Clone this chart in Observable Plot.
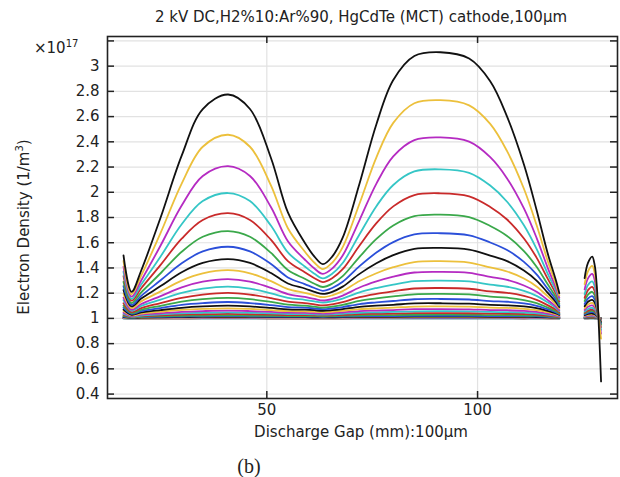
<!DOCTYPE html>
<html><head><meta charset="utf-8">
<script src="https://cdn.jsdelivr.net/npm/d3@7"></script>
<script src="https://cdn.jsdelivr.net/npm/@observablehq/plot@0.6"></script>
<style>
body{margin:0;background:#fff;}
#wrap{position:relative;width:620px;height:477px;font-family:"DejaVu Sans",sans-serif;color:#222;overflow:hidden;}
.t{position:absolute;white-space:nowrap;font-size:15px;line-height:18px;}
</style></head><body><div id="wrap"></div>
<script>
// Discharge gap positions (mm) sampled along the two curve segments
const xGap1 = [16.0, 17.9, 20.2, 24.8, 29.8, 34.8, 40.8, 46, 51, 55, 59, 61.3, 63.3, 65.5, 68, 72, 76, 80, 85, 91.2, 98, 103, 107, 111, 114, 116.6, 118.6, 119.4];
const xGap2 = [125.4, 126.2, 127.2, 127.8, 128.3, 128.8, 129.3];

// COMSOL-style colour cycle
const seriesColors = ["#2b4fd9", "#3aa84a", "#c92a2a", "#35c6c6", "#b52bc2", "#ecc03c", "#111111"];

// Electron density (x1e17 1/m^3), series from bottom (first) to top (last)
const density1 = [
  [1,1,1,1,1,1,1,1,1,1,1,1,1,1,1,1,1,1,1,1,1,1,1,1,1,1,1,1],
  [1.001,1,1,1,1.001,1.001,1.001,1.001,1.001,1,1,1,1,1,1,1.001,1.001,1.001,1.001,1.001,1.001,1.001,1.001,1,1.001,1,1,1],
  [1.002,1.001,1.001,1.001,1.001,1.002,1.002,1.002,1.001,1.001,1.001,1.001,1.001,1.001,1.001,1.002,1.002,1.002,1.002,1.002,1.002,1.002,1.002,1.001,1.002,1.001,1.001,1.001],
  [1.003,1.001,1.002,1.002,1.003,1.003,1.004,1.003,1.003,1.002,1.002,1.002,1.002,1.002,1.002,1.003,1.003,1.004,1.004,1.004,1.004,1.004,1.003,1.003,1.003,1.002,1.002,1.001],
  [1.005,1.002,1.003,1.004,1.004,1.005,1.005,1.005,1.004,1.004,1.004,1.004,1.004,1.004,1.004,1.005,1.005,1.006,1.006,1.006,1.006,1.006,1.005,1.005,1.004,1.004,1.003,1.002],
  [1.007,1.003,1.005,1.006,1.007,1.008,1.009,1.008,1.007,1.007,1.007,1.006,1.006,1.006,1.007,1.008,1.009,1.009,1.010,1.011,1.010,1.009,1.009,1.008,1.008,1.006,1.004,1.003],
  [1.010,1.004,1.007,1.009,1.010,1.012,1.012,1.012,1.010,1.010,1.010,1.009,1.009,1.009,1.010,1.012,1.013,1.013,1.015,1.015,1.014,1.013,1.013,1.012,1.011,1.008,1.006,1.004],
  [1.015,1.006,1.010,1.013,1.015,1.017,1.018,1.017,1.015,1.014,1.014,1.014,1.013,1.014,1.015,1.018,1.018,1.019,1.021,1.021,1.021,1.019,1.019,1.018,1.016,1.012,1.008,1.006],
  [1.020,1.008,1.013,1.017,1.021,1.023,1.025,1.023,1.021,1.019,1.019,1.018,1.017,1.018,1.021,1.025,1.026,1.026,1.029,1.030,1.029,1.026,1.027,1.025,1.022,1.017,1.011,1.008],
  [1.028,1.012,1.018,1.024,1.030,1.033,1.036,1.033,1.030,1.027,1.027,1.025,1.024,1.025,1.028,1.035,1.036,1.038,1.042,1.042,1.041,1.038,1.038,1.035,1.031,1.023,1.015,1.011],
  [1.035,1.015,1.023,1.032,1.040,1.045,1.048,1.045,1.040,1.035,1.034,1.032,1.030,1.032,1.037,1.045,1.048,1.051,1.056,1.057,1.056,1.051,1.050,1.046,1.040,1.030,1.020,1.014],
  [1.045,1.019,1.030,1.041,1.052,1.058,1.062,1.058,1.051,1.046,1.044,1.041,1.039,1.041,1.047,1.058,1.062,1.066,1.073,1.074,1.072,1.066,1.065,1.060,1.051,1.038,1.025,1.018],
  [1.058,1.024,1.038,1.053,1.067,1.075,1.080,1.075,1.066,1.058,1.056,1.053,1.049,1.053,1.060,1.074,1.080,1.085,1.094,1.095,1.093,1.085,1.083,1.076,1.066,1.049,1.032,1.023],
  [1.070,1.029,1.047,1.066,1.084,1.095,1.101,1.095,1.083,1.072,1.069,1.065,1.060,1.065,1.074,1.092,1.101,1.108,1.119,1.120,1.117,1.107,1.104,1.095,1.081,1.060,1.040,1.028],
  [1.085,1.036,1.057,1.082,1.107,1.121,1.130,1.121,1.105,1.090,1.085,1.079,1.073,1.079,1.090,1.114,1.127,1.138,1.152,1.154,1.150,1.137,1.132,1.119,1.100,1.073,1.048,1.034],
  [1.100,1.042,1.068,1.100,1.133,1.153,1.163,1.153,1.131,1.109,1.101,1.093,1.086,1.093,1.107,1.139,1.158,1.174,1.191,1.194,1.190,1.173,1.164,1.145,1.121,1.087,1.057,1.040],
  [1.120,1.050,1.082,1.121,1.163,1.189,1.202,1.189,1.161,1.133,1.121,1.111,1.103,1.111,1.129,1.169,1.195,1.215,1.237,1.241,1.235,1.214,1.203,1.178,1.147,1.105,1.068,1.048],
  [1.145,1.061,1.099,1.149,1.202,1.236,1.252,1.236,1.199,1.163,1.147,1.135,1.125,1.135,1.157,1.207,1.241,1.268,1.295,1.300,1.293,1.267,1.251,1.218,1.179,1.128,1.083,1.058],
  [1.165,1.069,1.114,1.177,1.246,1.291,1.311,1.291,1.242,1.193,1.170,1.154,1.142,1.154,1.181,1.245,1.293,1.331,1.364,1.369,1.361,1.329,1.305,1.261,1.211,1.147,1.094,1.066],
  [1.195,1.082,1.135,1.214,1.300,1.357,1.382,1.357,1.295,1.232,1.203,1.183,1.168,1.183,1.216,1.296,1.358,1.406,1.447,1.454,1.443,1.404,1.372,1.316,1.253,1.176,1.112,1.078],
  [1.225,1.095,1.157,1.256,1.366,1.440,1.470,1.440,1.360,1.277,1.237,1.211,1.194,1.211,1.252,1.353,1.437,1.501,1.551,1.559,1.546,1.498,1.454,1.379,1.300,1.205,1.129,1.090],
  [1.255,1.107,1.179,1.302,1.437,1.531,1.568,1.531,1.431,1.325,1.272,1.241,1.219,1.241,1.290,1.414,1.522,1.605,1.666,1.675,1.659,1.602,1.542,1.448,1.349,1.236,1.147,1.102],
  [1.290,1.122,1.206,1.358,1.528,1.647,1.692,1.647,1.519,1.383,1.314,1.275,1.249,1.275,1.335,1.488,1.630,1.737,1.811,1.823,1.803,1.733,1.654,1.534,1.409,1.272,1.168,1.116],
  [1.335,1.141,1.239,1.424,1.632,1.780,1.834,1.780,1.622,1.454,1.366,1.319,1.288,1.319,1.390,1.578,1.755,1.888,1.978,1.992,1.968,1.884,1.784,1.634,1.482,1.317,1.195,1.134],
  [1.370,1.155,1.268,1.491,1.746,1.930,1.994,1.930,1.734,1.523,1.412,1.354,1.318,1.354,1.439,1.667,1.890,2.058,2.165,2.182,2.154,2.053,1.925,1.738,1.551,1.357,1.217,1.148],
  [1.410,1.172,1.301,1.578,1.895,2.129,2.207,2.129,1.881,1.612,1.467,1.395,1.353,1.395,1.498,1.780,2.069,2.285,2.414,2.435,2.401,2.278,2.110,1.872,1.639,1.405,1.242,1.164],
  [1.455,1.191,1.339,1.678,2.069,2.361,2.456,2.361,2.053,1.715,1.530,1.441,1.391,1.441,1.565,1.911,2.277,2.550,2.706,2.730,2.689,2.542,2.326,2.028,1.740,1.459,1.270,1.182],
  [1.50,1.21,1.38,1.80,2.29,2.66,2.775,2.66,2.27,1.84,1.60,1.49,1.43,1.49,1.64,2.07,2.54,2.89,3.08,3.11,3.06,2.88,2.60,2.22,1.86,1.52,1.30,1.20]
];
const density2 = [
  [1,1,1,1,1,1,1],
  [1.0,1.0,1.001,1.0,1.0,1.0,1.0],
  [1.001,1.001,1.002,1.001,1.001,1.0,1.0],
  [1.002,1.002,1.002,1.002,1.001,1.0,1.0],
  [1.002,1.003,1.003,1.003,1.002,1.0,1.0],
  [1.003,1.004,1.005,1.004,1.003,1.0,1.0],
  [1.005,1.007,1.007,1.006,1.004,1.0,1.0],
  [1.006,1.009,1.010,1.008,1.005,1.0,0.999],
  [1.008,1.011,1.012,1.011,1.006,1.0,0.999],
  [1.010,1.013,1.015,1.013,1.008,1.0,0.998],
  [1.013,1.018,1.020,1.017,1.010,1.0,0.998],
  [1.016,1.022,1.025,1.021,1.013,1.0,0.997],
  [1.021,1.029,1.032,1.027,1.016,1.0,0.996],
  [1.026,1.035,1.039,1.034,1.020,1.0,0.995],
  [1.032,1.044,1.049,1.042,1.025,1.0,0.993],
  [1.038,1.053,1.059,1.050,1.030,1.0,0.99],
  [1.045,1.062,1.069,1.059,1.035,1.0,0.99],
  [1.054,1.075,1.083,1.071,1.043,1.0,0.985],
  [1.067,1.092,1.103,1.088,1.053,1.0,0.98],
  [1.080,1.110,1.123,1.105,1.063,1.0,0.975],
  [1.096,1.132,1.147,1.126,1.075,1.0,0.97],
  [1.115,1.158,1.176,1.151,1.090,0.995,0.96],
  [1.138,1.189,1.211,1.181,1.108,0.995,0.95],
  [1.163,1.224,1.250,1.214,1.128,0.99,0.93],
  [1.192,1.264,1.294,1.252,1.150,0.99,0.91],
  [1.230,1.317,1.353,1.302,1.180,0.985,0.88],
  [1.272,1.374,1.417,1.357,1.213,0.98,0.84],
  [1.32,1.44,1.49,1.42,1.25,0.92,0.50]
];

const yTicks = [0.4, 0.6, 0.8, 1, 1.2, 1.4, 1.6, 1.8, 2, 2.2, 2.4, 2.6, 2.8, 3, 3.2];
const yTickLabels = [0.4, 0.6, 0.8, 1, 1.2, 1.4, 1.6, 1.8, 2, 2.2, 2.4, 2.6, 2.8, 3];
const xTicks = [50, 100];
const xDomain = [12.2, 133.2];
const yDomain = [0.365, 3.235];
const titleText = "2 kV DC,H2%10:Ar%90, HgCdTe (MCT) cathode,100μm";
const xLabel = "Discharge Gap (mm):100μm";
const yLabel = "Electron Density (1/m<sup style=\"font-size:10px\">3</sup>)";
const captionText = "(b)";

const rows = [];
density1.forEach((vals, s) => vals.forEach((v, j) => rows.push({x: xGap1[j], y: v, s, seg: 1})));
density2.forEach((vals, s) => vals.forEach((v, j) => rows.push({x: xGap2[j], y: v, s, seg: 2})));

const W = 620, H = 477, mL = 107, mR = 3, mT = 36, mB = 79;
const fW = W - mL - mR, fH = H - mT - mB, tk = 7;

const chart = Plot.plot({
  width: W, height: H,
  marginLeft: mL, marginRight: mR, marginTop: mT, marginBottom: mB,
  style: {fontFamily: "DejaVu Sans, sans-serif", fontSize: "15px", color: "#222", background: "#fff"},
  x: {domain: xDomain},
  y: {domain: yDomain},
  color: {type: "identity"},
  marks: [
    Plot.gridY(yTicks, {stroke: "#e2e2e2", strokeOpacity: 1, strokeWidth: 1.2}),
    Plot.gridX(xTicks, {stroke: "#e2e2e2", strokeOpacity: 1, strokeWidth: 1.2}),
    Plot.line(rows, {x: "x", y: "y", z: d => d.s + "-" + d.seg, stroke: d => seriesColors[d.s % 7], strokeWidth: 1.8, curve: "catmull-rom"}),
    Plot.ruleY(yTicks, {y: d => d, insetRight: fW - tk, stroke: "#222", strokeWidth: 1.5}),
    Plot.ruleY(yTicks, {y: d => d, insetLeft: fW - tk, stroke: "#222", strokeWidth: 1.5}),
    Plot.ruleX(xTicks, {x: d => d, insetTop: fH - tk, stroke: "#222", strokeWidth: 1.5}),
    Plot.ruleX(xTicks, {x: d => d, insetBottom: fH - tk, stroke: "#222", strokeWidth: 1.5}),
    Plot.frame({stroke: "#222", strokeWidth: 1.6}),
    Plot.axisY(yTickLabels, {tickSize: 0, tickPadding: 8, tickFormat: d => String(+d.toFixed(1)), label: null, fill: "#222"}),
    Plot.axisX(xTicks, {tickSize: 0, tickPadding: 6, tickFormat: d => String(d), label: null, fill: "#222"})
  ]
});

const wrap = document.getElementById("wrap");
wrap.appendChild(chart);
chart.style.position = "absolute"; chart.style.left = "0"; chart.style.top = "0";

function addText(html, css) {
  const d = document.createElement("div");
  d.className = "t";
  d.innerHTML = html;
  Object.assign(d.style, css);
  wrap.appendChild(d);
}
addText(titleText, {left: "361px", top: "8px", transform: "translateX(-50%)"});
addText("×10<sup style=\"font-size:10px\">17</sup>", {left: "34px", top: "35px"});
addText(yLabel, {left: "22px", top: "227px", transform: "translate(-50%,-50%) rotate(-90deg)"});
addText(xLabel, {left: "361px", top: "423px", transform: "translateX(-50%)"});
addText(captionText, {left: "249px", top: "466px", transform: "translate(-50%,-50%)", fontFamily: "'Liberation Serif', serif", fontSize: "20px", lineHeight: "22px"});
</script>
</body></html>
